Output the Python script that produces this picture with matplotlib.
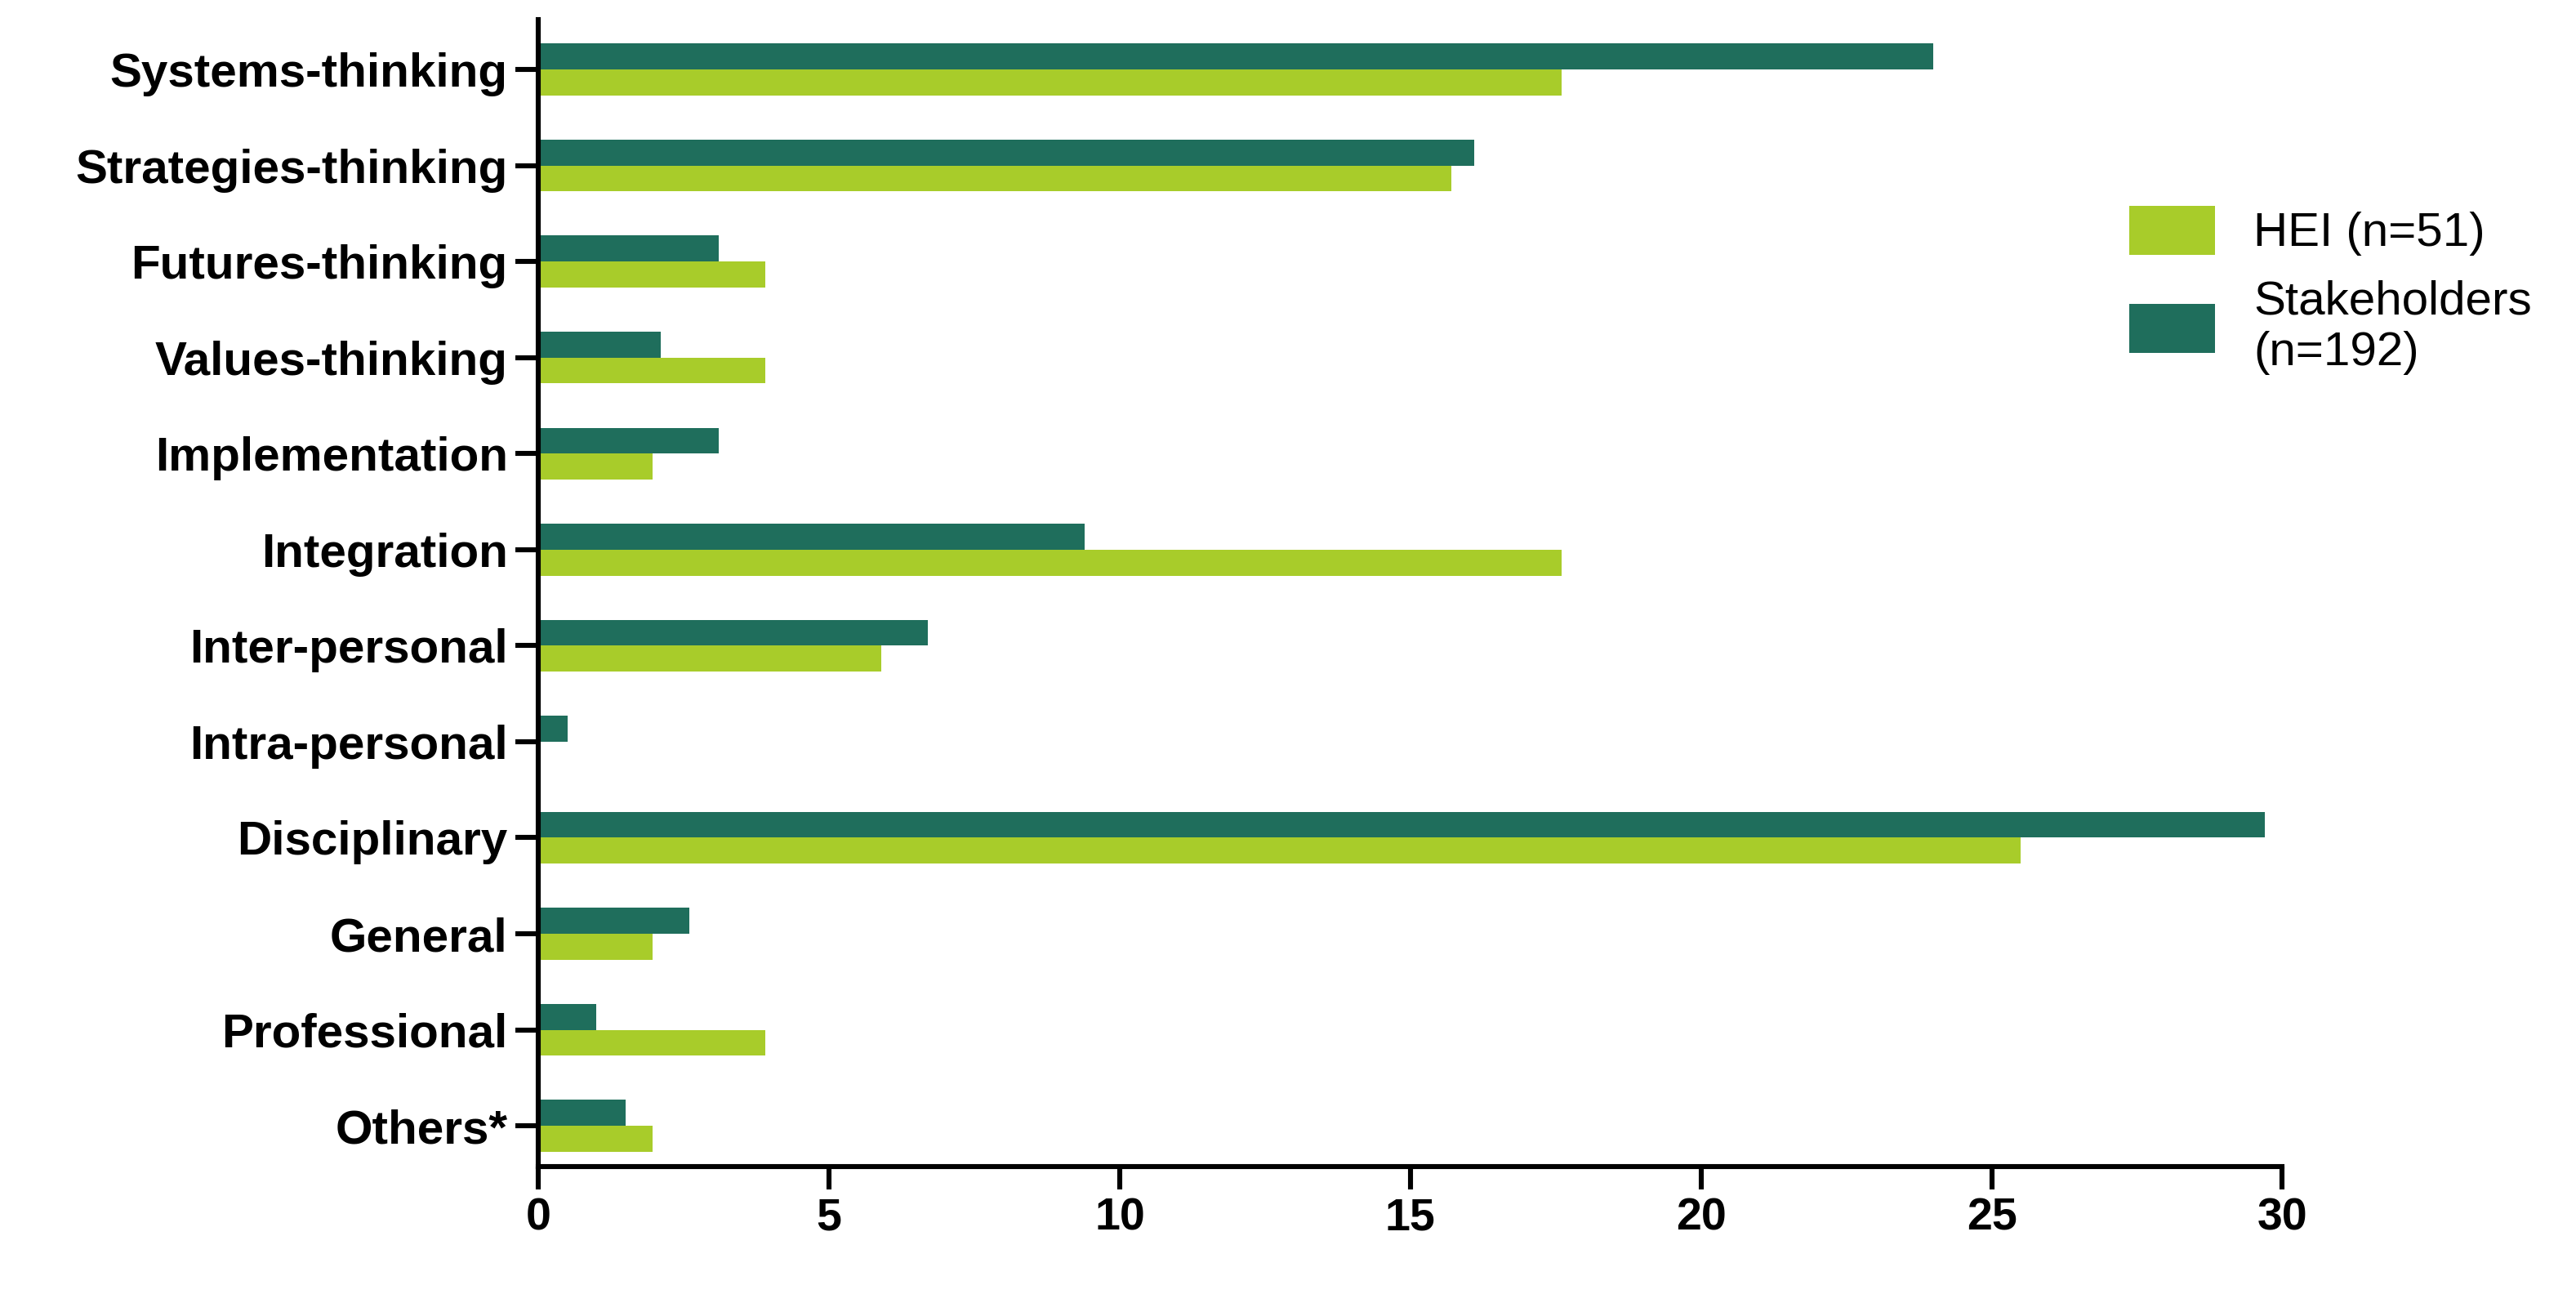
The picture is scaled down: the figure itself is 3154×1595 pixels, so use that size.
import matplotlib.pyplot as plt
import numpy as np

plt.rcParams['font.family'] = ['Liberation Sans', 'DejaVu Sans']

categories = ['Systems-thinking', 'Strategies-thinking', 'Futures-thinking', 'Values-thinking',
              'Implementation', 'Integration', 'Inter-personal', 'Intra-personal',
              'Disciplinary', 'General', 'Professional', 'Others*']
stakeholders = [24.0, 16.1, 3.1, 2.1, 3.1, 9.4, 6.7, 0.5, 29.7, 2.6, 1.0, 1.5]
hei = [17.6, 15.7, 3.9, 3.9, 1.96, 17.6, 5.9, 0.0, 25.5, 1.96, 3.9, 1.96]

fig = plt.figure(figsize=(15.77, 7.975), dpi=200)
ax = fig.add_axes([0.209, 0.105, 0.677, 0.88])

y = np.arange(len(categories))
h = 0.27
ax.barh(y - h / 2, stakeholders, height=h, color='#1f6e5c', label='Stakeholders\n(n=192)')
ax.barh(y + h / 2, hei, height=h, color='#a8cc2a', label='HEI (n=51)')

ax.set_yticks(y)
ax.set_yticklabels(categories, fontsize=21, fontweight='bold')
ax.set_ylim(len(categories) - 0.58, -0.52)
ax.set_xlim(0, 30)
ax.set_xticks(range(0, 31, 5))
ax.set_xticklabels([str(v) for v in range(0, 31, 5)], fontsize=20, fontweight='bold')
ax.tick_params(axis='x', width=2.2, length=10)
ax.tick_params(axis='y', width=2.2, length=10)
for s in ['top', 'right']:
    ax.spines[s].set_visible(False)
for s in ['left', 'bottom']:
    ax.spines[s].set_linewidth(2.2)

hd, lb = ax.get_legend_handles_labels()
fig.legend(hd[::-1], lb[::-1], loc='upper left', bbox_to_anchor=(0.81, 0.875),
           frameon=False, fontsize=21, handlelength=1.8, handleheight=1.2)

fig.savefig('out.png')
